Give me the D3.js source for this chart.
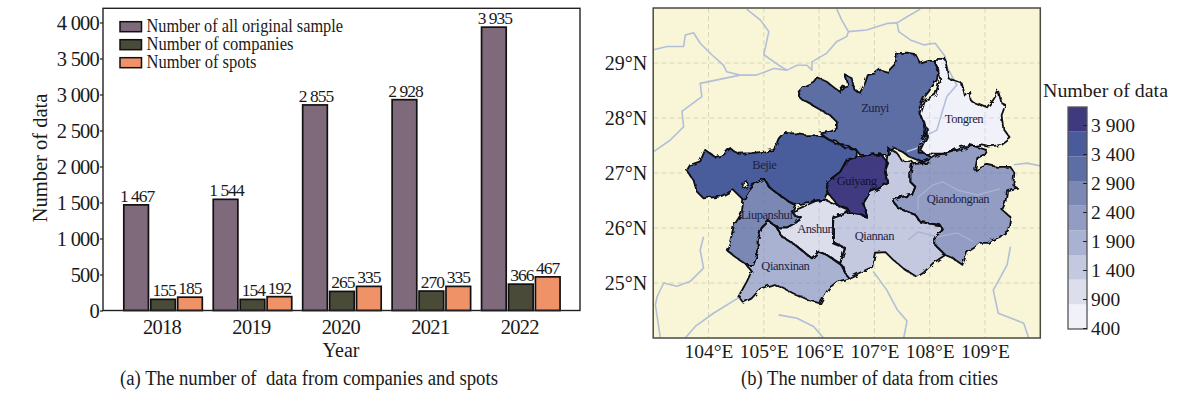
<!DOCTYPE html>
<html><head><meta charset="utf-8">
<script src="https://cdn.jsdelivr.net/npm/d3@7"></script>
<style>
html,body{margin:0;padding:0;background:#fff}
svg{display:block}
text{font-family:"Liberation Serif","Times New Roman",serif;fill:#1a1a1a}
</style></head><body>
<svg id="c" width="1200" height="397"></svg>
<script>
const years=["2018","2019","2020","2021","2022"];
const seriesNames=["Number of all original sample","Number of companies","Number of spots"];
const allSample=[1467,1544,2855,2928,3935];
const companies=[155,154,265,270,366];
const spots=[185,192,335,335,467];
const seriesColors=["#7f6a7c","#4a4a38","#ef9268"];
const yTicks=[0,500,1000,1500,2000,2500,3000,3500,4000];

const lonTicks=[104,105,106,107,108,109];
const latTicks=[25,26,27,28,29];
const barTicks=[400,900,1400,1900,2400,2900,3400,3900];
const bandColors=["#f1f1f9","#dcdeec","#c4c9e0","#aab2d2","#939dc3","#7a88b3","#5d6ea5","#4a5b9b","#3f3a80"];

const tongren=[[108.07,29.07],[108.28,29.08],[108.34,28.72],[108.58,28.63],[108.64,28.39],[108.73,28.48],[108.76,28.30],[109.03,28.19],[109.15,28.33],[109.24,28.48],[109.30,28.27],[109.37,28.24],[109.30,28.05],[109.33,27.81],[109.46,27.63],[109.30,27.51],[109.06,27.48],[108.91,27.51],[108.73,27.48],[108.55,27.42],[108.31,27.35],[108.07,27.35],[107.80,27.37],[107.80,27.48],[107.92,27.69],[107.89,27.90],[107.83,28.05],[107.92,28.33],[108.10,28.42],[108.19,28.72],[108.13,28.93]];
const zunyi=[[105.63,28.48],[105.71,28.57],[105.90,28.66],[105.96,28.74],[106.14,28.66],[106.29,28.54],[106.37,28.48],[106.44,28.57],[106.53,28.60],[106.47,28.78],[106.59,28.72],[106.64,28.51],[106.74,28.46],[106.83,28.63],[106.88,28.78],[107.01,28.81],[107.10,28.88],[107.24,28.84],[107.38,28.99],[107.41,29.18],[107.59,29.19],[107.74,29.16],[107.83,28.99],[107.98,29.04],[108.08,29.04],[108.16,28.87],[108.13,28.69],[107.98,28.48],[107.89,28.36],[107.80,28.15],[107.86,27.99],[107.95,27.81],[107.95,27.66],[107.83,27.42],[107.95,27.33],[108.04,27.28],[107.95,27.16],[107.80,27.23],[107.62,27.30],[107.50,27.39],[107.35,27.45],[107.23,27.33],[107.10,27.33],[106.93,27.33],[106.74,27.33],[106.65,27.45],[106.47,27.45],[106.32,27.57],[106.20,27.60],[106.02,27.72],[106.20,27.75],[106.32,27.81],[106.32,27.93],[106.20,28.05],[106.02,28.15],[105.81,28.27],[105.66,28.36]];
const bijie=[[103.61,27.05],[103.67,27.15],[103.85,27.21],[103.94,27.42],[104.12,27.29],[104.27,27.33],[104.39,27.45],[104.54,27.35],[104.78,27.36],[104.99,27.39],[105.18,27.42],[105.27,27.63],[105.36,27.73],[105.57,27.72],[105.72,27.69],[105.90,27.69],[106.08,27.66],[106.29,27.54],[106.50,27.51],[106.68,27.41],[106.68,27.30],[106.50,27.24],[106.38,27.02],[106.14,26.84],[106.17,26.63],[106.11,26.51],[105.96,26.50],[105.84,26.48],[105.57,26.42],[105.45,26.48],[105.24,26.63],[105.09,26.75],[105.00,26.90],[104.84,26.81],[104.72,26.66],[104.63,26.51],[104.45,26.69],[104.21,26.57],[103.91,26.54],[103.79,26.66],[103.73,26.87]];
const enclave=[[104.60,26.81],[104.69,26.86],[104.72,26.78],[104.63,26.72]];
const liupanshui=[[104.72,26.66],[104.84,26.81],[105.00,26.90],[105.09,26.75],[105.24,26.63],[105.45,26.48],[105.57,26.42],[105.51,26.30],[105.57,26.22],[105.69,26.18],[105.57,26.09],[105.42,26.01],[105.24,26.01],[105.09,26.13],[104.96,26.00],[104.89,25.78],[104.89,25.54],[104.81,25.33],[104.69,25.33],[104.51,25.45],[104.33,25.60],[104.39,25.75],[104.46,26.05],[104.60,26.27],[104.63,26.51]];
const qianxinan=[[105.09,26.13],[105.24,26.01],[105.33,25.84],[105.57,25.69],[105.75,25.54],[105.87,25.45],[105.99,25.57],[106.14,25.51],[106.35,25.36],[106.44,25.30],[106.53,25.08],[106.32,25.02],[106.17,24.90],[106.02,24.63],[105.81,24.69],[105.54,24.81],[105.36,24.90],[105.18,24.98],[104.94,24.90],[104.78,24.72],[104.63,24.64],[104.54,24.75],[104.69,25.02],[104.78,25.21],[104.69,25.33],[104.81,25.33],[104.89,25.54],[104.89,25.78],[104.96,26.00]];
const anshun=[[105.51,26.30],[105.72,26.39],[105.96,26.50],[106.11,26.51],[106.32,26.42],[106.53,26.33],[106.50,26.27],[106.26,26.21],[106.25,25.96],[106.25,25.72],[106.47,25.63],[106.38,25.36],[106.14,25.51],[105.99,25.57],[105.87,25.45],[105.75,25.54],[105.57,25.69],[105.33,25.84],[105.24,26.01],[105.42,26.01],[105.57,26.09],[105.69,26.18],[105.57,26.22]];
const guiyang=[[106.15,26.84],[106.38,27.02],[106.51,27.24],[106.69,27.29],[107.10,27.36],[107.25,27.18],[107.20,27.05],[107.25,26.82],[107.10,26.73],[106.92,26.65],[106.80,26.45],[106.87,26.20],[106.74,26.24],[106.56,26.27],[106.51,26.36],[106.33,26.42],[106.16,26.64]];
const qiannan=[[106.51,26.27],[106.74,26.24],[106.87,26.20],[106.80,26.45],[106.92,26.65],[107.10,26.73],[107.25,26.82],[107.20,27.05],[107.25,27.45],[107.41,27.36],[107.52,27.20],[107.65,27.24],[107.70,27.18],[107.65,27.00],[107.65,26.84],[107.74,26.75],[107.68,26.60],[107.47,26.56],[107.32,26.51],[107.43,26.36],[107.74,26.24],[107.83,26.11],[108.19,26.05],[108.23,25.96],[108.10,25.84],[108.10,25.69],[108.28,25.51],[108.06,25.36],[107.88,25.18],[107.77,25.11],[107.52,25.27],[107.34,25.42],[107.20,25.56],[107.01,25.55],[106.96,25.29],[106.53,25.09],[106.38,25.36],[106.47,25.64],[106.25,25.75],[106.25,26.18]];
const qiandongnan=[[107.68,27.18],[107.88,27.20],[108.05,27.27],[108.15,27.33],[108.37,27.38],[108.55,27.47],[108.73,27.51],[109.02,27.42],[108.97,27.33],[108.86,27.27],[108.82,27.05],[109.04,27.15],[109.22,27.11],[109.46,27.11],[109.53,27.00],[109.51,26.78],[109.58,26.73],[109.40,26.69],[109.37,26.47],[109.31,26.33],[109.46,26.20],[109.42,25.96],[109.27,25.84],[109.13,25.78],[109.06,25.73],[108.91,25.73],[108.82,25.65],[108.68,25.56],[108.59,25.33],[108.42,25.45],[108.28,25.51],[108.10,25.69],[108.10,25.84],[108.23,25.96],[108.19,26.05],[107.83,26.11],[107.74,26.24],[107.43,26.36],[107.32,26.51],[107.47,26.56],[107.68,26.60],[107.74,26.75],[107.65,26.84],[107.65,27.00]];

const regionNames=["Tongren","Zunyi","Bejie","Liupanshui","Qianxinan","Anshun","Qiannan","Qiandongnan","Guiyang"];
const regionShapes=[tongren,zunyi,bijie,liupanshui,qianxinan,anshun,qiannan,qiandongnan,guiyang];
const regionValues=[500,3100,3500,2700,1900,1000,1500,2300,3900];
const regionLabelPoints=[[108.62,27.98],[107.01,28.18],[105.01,27.15],[105.05,26.24],[105.39,25.31],[105.93,25.98],[107.0,25.85],[108.51,26.53],[106.68,26.85]];

const rivers=[
[[103.01,29.24],[103.25,29.30],[103.55,29.30],[103.58,29.51],[103.73,29.55],[103.85,29.36],[104.06,29.15],[104.27,28.96],[104.33,28.84],[104.57,28.78],[104.87,28.78],[105.18,28.90],[105.42,28.87],[105.60,28.96],[105.78,28.96],[105.87,28.87],[105.87,29.02],[106.14,29.18],[106.32,29.39],[106.50,29.48],[106.53,29.57],[106.41,29.78],[106.32,29.98]],
[[106.53,29.57],[106.86,29.60],[107.23,29.72],[107.41,29.73],[107.59,29.84],[107.83,29.98]],
[[107.41,29.73],[107.44,29.57],[107.65,29.42],[107.89,29.33],[108.10,29.36],[108.28,29.12],[108.31,28.93],[108.49,28.60],[108.31,28.39],[108.22,28.09],[108.13,27.78],[107.95,27.69],[107.77,27.45],[107.59,27.39]],
[[104.69,29.98],[104.94,29.78],[105.09,29.57],[105.00,29.15],[105.27,28.96],[105.42,28.87]],
[[104.57,28.78],[103.85,28.63],[103.88,28.39],[103.52,28.12],[103.55,27.84],[103.31,27.60],[103.01,27.39]],
[[109.52,27.15],[109.76,27.18],[110,27.13]],
[[103.91,25.84],[103.85,25.60],[103.91,25.27],[103.67,25.03],[103.43,24.94],[103.19,25.00],[103.07,24.75],[103.04,24.60],[103.13,24.00]],
[[104.54,24.73],[104.09,24.45],[103.76,24.21],[103.58,24.00]],
[[105.27,24.42],[105.60,24.36],[105.90,24.21],[106.08,24.00]],
[[106.98,25.21],[107.22,24.88],[107.41,24.52],[107.59,24.31],[107.53,24.00]],
[[109.46,25.66],[109.40,25.33],[109.15,24.87],[109.24,24.45],[109.70,24.27],[109.79,24.00]]
];
const innerRivers=[
[[107.79,26.33],[107.79,26.56],[108.05,26.78],[108.24,26.84],[108.50,26.69],[108.86,26.60],[109.27,26.71]],
[[107.61,25.78],[107.79,25.93],[108.14,25.84],[108.50,25.91],[108.79,25.75]]
];

const svg=d3.select("#c");
const grouped=d3.format(",");
const spaced=d=>grouped(d).replace(/,/g," ");

// ---------- (a) bars
const B={l:103,r:580,t:8.3,b:310.5};
const y=d3.scaleLinear().domain([0,4197]).range([B.b,B.t]);
const x0=d3.scaleBand().domain(years).range([118.3,565.5]);
const x1=d3.scaleBand().domain(seriesNames).range([5.5,84]).paddingInner(0.085);
const seriesValues=[allSample,companies,spots];

const a=svg.append("g");
const yAxis=a.append("g").attr("transform",`translate(${B.l},0)`)
  .call(d3.axisLeft(y).tickValues(yTicks).tickFormat(spaced).tickSize(3).tickPadding(1));
yAxis.select(".domain").remove();
yAxis.selectAll("line").attr("stroke","#222").attr("stroke-width",1.2);
yAxis.selectAll("text").attr("font-size",20.5).style("letter-spacing","-0.8px").attr("fill","#1a1a1a");

const xAxis=a.append("g").attr("transform",`translate(0,${B.b})`)
  .call(d3.axisBottom(x0).tickSize(0).tickPadding(9));
xAxis.select(".domain").remove();
xAxis.selectAll("text").attr("font-size",20.5).style("letter-spacing","-0.7px").attr("dx",-1).attr("fill","#1a1a1a");

seriesNames.forEach((name,si)=>{
  const g=a.append("g");
  g.selectAll("rect").data(years).join("rect")
    .attr("x",d=>x0(d)+x1(name))
    .attr("width",x1.bandwidth())
    .attr("y",(d,i)=>y(seriesValues[si][i]))
    .attr("height",(d,i)=>y(0)-y(seriesValues[si][i]))
    .attr("fill",seriesColors[si]).attr("stroke","#111").attr("stroke-width",1.7);
  g.selectAll("text").data(years).join("text")
    .attr("x",d=>x0(d)+x1(name)+x1.bandwidth()/2+(si==0?1:si==1?1:0))
    .attr("y",(d,i)=>y(seriesValues[si][i])-3)
    .attr("text-anchor","middle").attr("font-size",17.5).style("letter-spacing","-1px")
    .text((d,i)=>spaced(seriesValues[si][i]));
});
a.append("rect").attr("x",B.l).attr("y",B.t).attr("width",B.r-B.l).attr("height",B.b-B.t)
  .attr("fill","none").attr("stroke","#222").attr("stroke-width",1.4);

const legY=d3.scalePoint().domain(seriesNames).range([26.7,62.7]);
seriesNames.forEach((name,i)=>{
  a.append("rect").attr("x",120).attr("y",legY(name)-5).attr("width",21.5).attr("height",10)
    .attr("fill",seriesColors[i]).attr("stroke","#111").attr("stroke-width",1.5);
  a.append("text").attr("x",146.5).attr("y",legY(name)+5).attr("font-size",18)
    .attr("textLength",[196.5,147,110][i]).attr("lengthAdjust","spacingAndGlyphs").text(name);
});
a.append("text").attr("transform",`translate(47,158) rotate(-90)`).attr("text-anchor","middle")
  .attr("font-size",20.5).text("Number of data");
a.append("text").attr("x",341).attr("y",357).attr("text-anchor","middle").attr("font-size",20).text("Year");
a.append("text").attr("x",120).attr("y",385).attr("font-size",20)
  .attr("textLength",378).attr("lengthAdjust","spacingAndGlyphs").attr("xml:space","preserve")
  .text("(a) The number of  data from companies and spots");

// ---------- (b) map
const M={l:653.2,r:1040.3,t:8,b:338};
const lon=d3.scaleLinear().domain([103,110]).range([M.l,M.r]);
const lat=d3.scaleLinear().domain([24,30]).range([M.b,M.t]);
const line=d3.line().x(d=>lon(d[0])).y(d=>lat(d[1]));
const color=d3.scaleQuantize().domain([400,4210]).range(bandColors);

const defs=svg.append("defs");
defs.append("clipPath").attr("id","mapClip").append("rect")
  .attr("x",M.l).attr("y",M.t).attr("width",M.r-M.l).attr("height",M.b-M.t);
defs.append("clipPath").attr("id","provClip").selectAll("path").data(regionShapes).join("path")
  .attr("d",d=>line(d)+"Z");
const rough=defs.append("filter").attr("id","rough").attr("x","-5%").attr("y","-5%").attr("width","110%").attr("height","110%");
rough.append("feTurbulence").attr("type","fractalNoise").attr("baseFrequency",0.16).attr("numOctaves",2).attr("seed",4).attr("result","n");
rough.append("feDisplacementMap").attr("in","SourceGraphic").attr("in2","n").attr("scale",5);

const m=svg.append("g");
m.append("rect").attr("x",M.l).attr("y",M.t).attr("width",M.r-M.l).attr("height",M.b-M.t).attr("fill","#f8f6d6");
const plot=m.append("g").attr("clip-path","url(#mapClip)");
function drawGrid(g,stroke){
  lonTicks.forEach(t=>g.append("line").attr("x1",lon(t)).attr("x2",lon(t)).attr("y1",M.t).attr("y2",M.b).attr("stroke",stroke).attr("stroke-width",1).attr("stroke-dasharray","5 3"));
  latTicks.forEach(t=>g.append("line").attr("x1",M.l).attr("x2",M.r).attr("y1",lat(t)).attr("y2",lat(t)).attr("stroke",stroke).attr("stroke-width",1).attr("stroke-dasharray","5 3"));
}
drawGrid(plot.append("g"),"#d6d7ba");
const geo=plot.append("g").attr("filter","url(#rough)");
geo.selectAll("path.region").data(regionShapes).join("path").attr("class","region")
  .attr("d",d=>line(d)+"Z").attr("fill",(d,i)=>color(regionValues[i]))
  .attr("stroke","none");
const over=plot.append("g").attr("opacity",0.16).attr("clip-path","url(#provClip)");
drawGrid(over,"#5a6088");
plot.selectAll("path.river").data(rivers).join("path").attr("class","river")
  .attr("d",line).attr("fill","none").attr("stroke","#b3bfd8").attr("stroke-width",1.6).attr("stroke-linejoin","round");
plot.selectAll("path.inner").data(innerRivers).join("path").attr("class","inner")
  .attr("d",line).attr("fill","none").attr("stroke","#a9b2d0").attr("stroke-width",1.3).attr("stroke-linejoin","round");
const geo2=plot.append("g").attr("filter","url(#rough)");
geo2.selectAll("path").data(regionShapes).join("path")
  .attr("d",d=>line(d)+"Z").attr("fill","none").attr("stroke","#0c0c14").attr("stroke-width",1.8).attr("stroke-linejoin","round");
geo2.append("path").attr("d",line(enclave)+"Z").attr("fill","#f8f6d6").attr("stroke","#0c0c14").attr("stroke-width",1.3);

plot.selectAll("text.reg").data(regionNames).join("text").attr("class","reg")
  .attr("x",(d,i)=>lon(regionLabelPoints[i][0])).attr("y",(d,i)=>lat(regionLabelPoints[i][1])+4)
  .attr("text-anchor","middle").attr("font-size",12.5).style("letter-spacing","-0.45px")
  .style("fill",d=>d=="Guiyang"?"#12122e":"#1e2240").text(d=>d);

m.append("rect").attr("x",M.l).attr("y",M.t).attr("width",M.r-M.l).attr("height",M.b-M.t)
  .attr("fill","none").attr("stroke","#4a4a40").attr("stroke-width",1.5);

const lonAxis=m.append("g").attr("transform",`translate(0,${M.b})`)
  .call(d3.axisBottom(lon).tickValues(lonTicks).tickFormat(d=>d+"°E").tickSize(0).tickPadding(6));
lonAxis.select(".domain").remove();
lonAxis.selectAll("text").attr("font-size",19.5).attr("fill","#1a1a1a");
const latAxis=m.append("g").attr("transform",`translate(${M.l},0)`)
  .call(d3.axisLeft(lat).tickValues(latTicks).tickFormat(d=>d+"°N").tickSize(0).tickPadding(6));
latAxis.select(".domain").remove();
latAxis.selectAll("text").attr("font-size",20).attr("fill","#1a1a1a");

m.append("text").attr("x",741).attr("y",385).attr("font-size",20)
  .attr("textLength",257).attr("lengthAdjust","spacingAndGlyphs").text("(b) The number of data from cities");

// ---------- colour bar
const cb={l:1068,r:1087,t:107,b:329};
const cbEdge=d3.scaleLinear().domain([400,4210]).range([cb.b,cb.t]);
const cbTick=d3.scaleLinear().domain([400,3900]).range([328,125]);
const cg=svg.append("g");
cg.selectAll("rect").data(bandColors).join("rect")
  .attr("x",cb.l).attr("width",cb.r-cb.l)
  .attr("y",d=>cbEdge(color.invertExtent(d)[1]))
  .attr("height",d=>cbEdge(color.invertExtent(d)[0])-cbEdge(color.invertExtent(d)[1]))
  .attr("fill",d=>d);
cg.append("rect").attr("x",cb.l).attr("y",cb.t).attr("width",cb.r-cb.l).attr("height",cb.b-cb.t)
  .attr("fill","none").attr("stroke","#555").attr("stroke-width",1.3);
const cbAxis=cg.append("g").attr("transform",`translate(${cb.r},0)`)
  .call(d3.axisRight(cbTick).tickValues(barTicks).tickFormat(spaced).tickSize(-4).tickPadding(4));
cbAxis.select(".domain").remove();
cbAxis.selectAll("line").attr("stroke","#222").attr("stroke-width",1);
cbAxis.selectAll("text").attr("font-size",19.5).attr("fill","#1a1a1a");
cg.append("text").attr("x",1043).attr("y",97).attr("font-size",18.5)
  .attr("textLength",125).attr("lengthAdjust","spacingAndGlyphs").text("Number of data");
</script>
</body></html>
